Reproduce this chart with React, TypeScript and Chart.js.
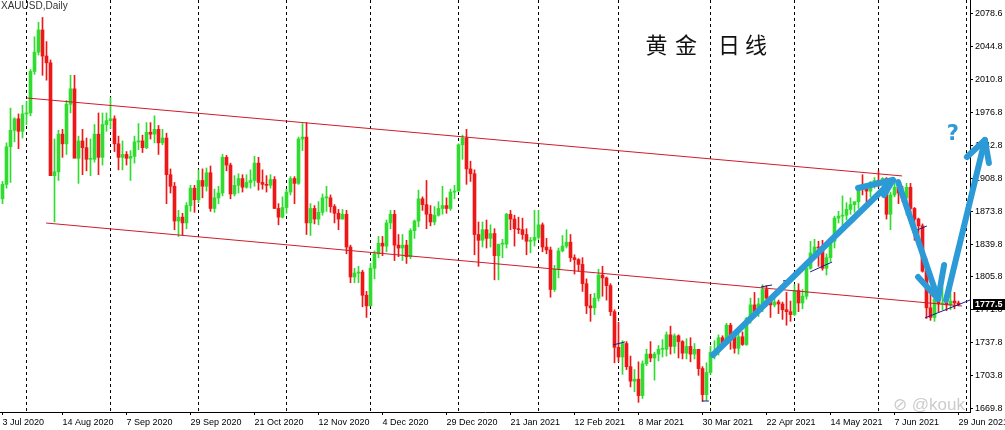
import React, { useEffect, useRef } from "react";
import { Chart, registerables } from "chart.js";
Chart.register(...registerables);

// XAUUSD daily, 24 Jul 2020 .. 29 Jun 2021 (one value per bar)
const openP = [
  // Jul
  1887, 1902, 1941, 1958, 1970, 1957,
  // Aug
  1975, 1976, 2019, 2039, 2062, 2035, 2028, 1911, 1915, 1954, 1944, 1985, 2001, 1929, 1947, 1940, 1928, 1928, 1954, 1930, 1964,
  // Sep
  1968, 1970, 1944, 1930, 1933, 1929, 1931, 1946, 1947, 1940, 1956, 1954, 1959, 1945, 1950, 1912, 1900, 1864, 1868, 1862, 1880, 1898,
  // Oct
  1886, 1906, 1900, 1914, 1877, 1888, 1893, 1930, 1922, 1892, 1901, 1908, 1899, 1904, 1906, 1924, 1904, 1902, 1901, 1907, 1877, 1868,
  // Nov
  1878, 1894, 1908, 1903, 1949, 1951, 1862, 1877, 1866, 1873, 1888, 1888, 1879, 1872, 1866, 1871, 1837, 1806, 1810, 1811, 1787,
  // Dec
  1776, 1815, 1830, 1841, 1838, 1862, 1871, 1839, 1836, 1839, 1827, 1854, 1864, 1887, 1881, 1871, 1863, 1870, 1877, 1880, 1877, 1894,
  // Jan
  1895, 1943, 1950, 1918, 1913, 1850, 1844, 1855, 1846, 1851, 1828, 1840, 1840, 1871, 1866, 1856, 1855, 1850, 1843, 1844,
  // Feb
  1847, 1860, 1837, 1834, 1793, 1814, 1833, 1838, 1842, 1826, 1824, 1819, 1799, 1776, 1774, 1784, 1808, 1805, 1797, 1770,
  // Mar
  1733, 1723, 1737, 1713, 1698, 1700, 1683, 1716, 1726, 1722, 1726, 1731, 1731, 1746, 1734, 1745, 1739, 1727, 1734, 1726, 1731, 1711, 1684,
  // Apr
  1707, 1728, 1729, 1743, 1737, 1756, 1744, 1732, 1744, 1736, 1763, 1777, 1770, 1778, 1793, 1784, 1777, 1780, 1778, 1772, 1770,
  // May
  1767, 1792, 1779, 1786, 1815, 1831, 1837, 1836, 1815, 1826, 1843, 1867, 1869, 1870, 1876, 1881, 1884, 1898, 1897, 1895, 1904,
  // Jun
  1906, 1903, 1908, 1871, 1891, 1899, 1893, 1888, 1899, 1877, 1866, 1859, 1812, 1774, 1764, 1783, 1778, 1779, 1777, 1781, 1779,
];
const highP = [
  1905, 1945, 1981, 1971, 1975, 1984,
  1988, 2021, 2055, 2070, 2075, 2050, 2031, 1949, 1958, 1959, 1989, 2015, 2015, 1952, 1959, 1950, 1949, 1964, 1976, 1976, 1976,
  1992, 1973, 1952, 1947, 1936, 1937, 1952, 1965, 1953, 1966, 1966, 1973, 1963, 1959, 1955, 1918, 1904, 1875, 1872, 1883, 1901, 1901,
  1917, 1918, 1919, 1921, 1897, 1900, 1933, 1932, 1924, 1911, 1913, 1912, 1912, 1917, 1931, 1930, 1917, 1911, 1912, 1910, 1882, 1889,
  1897, 1910, 1910, 1951, 1965, 1966, 1882, 1880, 1884, 1892, 1900, 1891, 1881, 1876, 1876, 1875, 1839, 1815, 1817, 1813, 1791,
  1820, 1833, 1848, 1848, 1865, 1875, 1875, 1850, 1850, 1844, 1856, 1865, 1896, 1889, 1906, 1880, 1879, 1884, 1900, 1888, 1897, 1901,
  1944, 1953, 1959, 1926, 1917, 1863, 1863, 1865, 1860, 1856, 1839, 1845, 1872, 1875, 1870, 1868, 1867, 1856, 1847, 1875,
  1875, 1862, 1846, 1837, 1818, 1836, 1849, 1855, 1850, 1829, 1825, 1826, 1804, 1788, 1789, 1814, 1817, 1806, 1799, 1772,
  1759, 1740, 1739, 1724, 1710, 1718, 1719, 1731, 1739, 1728, 1735, 1741, 1749, 1755, 1747, 1746, 1740, 1742, 1743, 1737, 1731, 1713, 1717,
  1734, 1740, 1746, 1745, 1758, 1758, 1746, 1747, 1749, 1764, 1784, 1790, 1784, 1798, 1797, 1786, 1786, 1782, 1780, 1790, 1781,
  1798, 1799, 1793, 1818, 1843, 1845, 1843, 1844, 1830, 1845, 1869, 1874, 1890, 1883, 1888, 1884, 1900, 1912, 1902, 1905, 1909,
  1916, 1909, 1909, 1894, 1903, 1904, 1900, 1903, 1903, 1878, 1867, 1861, 1825, 1795, 1789, 1790, 1795, 1785, 1793, 1790, 1781,
];
const lowP = [
  1882, 1898, 1904, 1946, 1939, 1950,
  1964, 1973, 2016, 2036, 2015, 2010, 1911, 1863, 1906, 1930, 1933, 1976, 1930, 1903, 1912, 1916, 1911, 1925, 1912, 1922, 1957,
  1960, 1936, 1917, 1917, 1922, 1906, 1924, 1938, 1935, 1939, 1949, 1945, 1933, 1943, 1882, 1893, 1855, 1848, 1849, 1856, 1874, 1873,
  1883, 1888, 1895, 1874, 1873, 1882, 1890, 1916, 1887, 1890, 1893, 1894, 1898, 1898, 1900, 1896, 1897, 1894, 1898, 1877, 1860, 1867,
  1872, 1891, 1882, 1902, 1937, 1850, 1849, 1861, 1860, 1870, 1874, 1873, 1862, 1855, 1866, 1830, 1800, 1800, 1800, 1775, 1764,
  1776, 1804, 1826, 1828, 1832, 1856, 1823, 1827, 1823, 1820, 1825, 1846, 1858, 1875, 1856, 1859, 1860, 1869, 1871, 1872, 1875, 1887,
  1895, 1928, 1902, 1905, 1829, 1817, 1837, 1836, 1837, 1803, 1803, 1826, 1836, 1855, 1838, 1851, 1845, 1829, 1831, 1838,
  1845, 1832, 1830, 1785, 1791, 1805, 1832, 1836, 1822, 1809, 1812, 1791, 1768, 1760, 1767, 1781, 1786, 1782, 1766, 1717,
  1718, 1705, 1710, 1692, 1687, 1676, 1680, 1714, 1718, 1699, 1719, 1723, 1724, 1726, 1727, 1722, 1721, 1721, 1718, 1721, 1704, 1677, 1678,
  1705, 1721, 1725, 1734, 1736, 1731, 1727, 1726, 1735, 1735, 1758, 1764, 1765, 1770, 1776, 1764, 1775, 1768, 1762, 1756, 1760,
  1766, 1770, 1773, 1783, 1814, 1827, 1817, 1813, 1808, 1822, 1836, 1862, 1855, 1865, 1871, 1873, 1877, 1891, 1884, 1889, 1898,
  1899, 1896, 1866, 1855, 1889, 1882, 1884, 1870, 1872, 1844, 1845, 1811, 1763, 1761, 1760, 1770, 1772, 1771, 1772, 1773, 1776,
];
const closeP = [
  1902, 1941, 1958, 1970, 1957, 1975,
  1976, 2019, 2039, 2062, 2035, 2028, 1911, 1915, 1954, 1944, 1985, 2001, 1929, 1947, 1940, 1928, 1928, 1954, 1930, 1964, 1968,
  1970, 1944, 1930, 1933, 1929, 1931, 1946, 1947, 1940, 1956, 1954, 1959, 1945, 1950, 1912, 1900, 1864, 1868, 1862, 1880, 1898, 1886,
  1906, 1900, 1914, 1877, 1888, 1893, 1930, 1922, 1892, 1901, 1908, 1899, 1904, 1906, 1924, 1904, 1902, 1901, 1907, 1877, 1868, 1878,
  1894, 1908, 1903, 1949, 1951, 1862, 1877, 1866, 1873, 1888, 1888, 1879, 1872, 1866, 1871, 1837, 1806, 1810, 1811, 1787, 1776,
  1815, 1830, 1841, 1838, 1862, 1871, 1839, 1836, 1839, 1827, 1854, 1864, 1887, 1881, 1871, 1863, 1870, 1877, 1880, 1877, 1894, 1895,
  1943, 1950, 1918, 1913, 1850, 1844, 1855, 1846, 1851, 1828, 1840, 1840, 1871, 1866, 1856, 1855, 1850, 1843, 1844, 1847,
  1860, 1837, 1834, 1793, 1814, 1833, 1838, 1842, 1826, 1824, 1819, 1799, 1776, 1774, 1784, 1808, 1805, 1797, 1770, 1733,
  1723, 1737, 1713, 1698, 1700, 1683, 1716, 1726, 1722, 1726, 1731, 1731, 1746, 1734, 1745, 1739, 1727, 1734, 1726, 1731, 1711, 1684, 1707,
  1728, 1729, 1743, 1737, 1756, 1744, 1732, 1744, 1736, 1763, 1777, 1770, 1778, 1793, 1784, 1777, 1780, 1778, 1772, 1770, 1767,
  1792, 1779, 1786, 1815, 1831, 1837, 1836, 1815, 1826, 1843, 1867, 1869, 1870, 1876, 1881, 1884, 1898, 1897, 1895, 1904, 1906,
  1903, 1908, 1871, 1891, 1899, 1893, 1888, 1899, 1877, 1866, 1859, 1812, 1774, 1764, 1783, 1778, 1779, 1777, 1781, 1779, 1777.5,
];

// bottom axis labels (bar index -> text)
const xTickIdx = [0, 15, 31, 47, 63, 79, 95, 111, 127, 143, 159, 175, 191, 207, 223, 239];
const xTickText = [
  "3 Jul 2020", "14 Aug 2020", "7 Sep 2020", "29 Sep 2020", "21 Oct 2020", "12 Nov 2020",
  "4 Dec 2020", "29 Dec 2020", "21 Jan 2021", "12 Feb 2021", "8 Mar 2021", "30 Mar 2021",
  "22 Apr 2021", "14 May 2021", "7 Jun 2021", "29 Jun 2021",
];
// right axis labels
const yTickValues = [1669.8, 1703.9, 1737.9, 1772.0, 1806.1, 1840.1, 1874.2, 1908.3, 1942.3, 1976.4, 2010.5, 2044.5, 2078.6];
const yTickText = ["1669.8", "1703.8", "1737.8", "1771.8", "1805.8", "1839.8", "1873.8", "1908.8", "1942.8", "1976.8", "2010.8", "2044.8", "2078.6"];

// month separators (first bar of each month)
const monthStarts = [6, 27, 49, 71, 92, 114, 134, 154, 177, 198, 219, 241];

// channel lines [barIndex, price]
const channelLines = [
  [[6.1, 1991.5], [224.9, 1910.7]],
  [[10.9, 1861.9], [239.9, 1775.9]],
];
// small navy trend lines
const navyLines = [
  [[152.6, 1735.5], [155.6, 1738.6]],
  [[174.9, 1677.4], [176.6, 1677.4]],
  [[189.6, 1795.6], [192.4, 1797.7]],
  [[195.1, 1801.8], [198.1, 1803.9]],
  [[201.9, 1811.2], [207.4, 1821.5]],
  [[227.4, 1852.6], [231.1, 1858.8]],
  [[230.6, 1763.5], [241.9, 1782.1]],
];
// hand-drawn arrows: [from, tip, arm1, arm2]
const arrows = [
  [[177.6, 1725.1], [222.6, 1906.5], [213.9, 1898.2], [220.4, 1890.9]],
  [[223.9, 1904.4], [233.9, 1783.2], [228.9, 1806.0], [235.4, 1818.4]],
  [[235.9, 1782.1], [245.6, 1948.0], [241.1, 1930.4], [246.6, 1924.1]],
];
const questionMark = [237.6, 1953.2];

const UP = "#2fdc2f";
const DOWN = "#ee1717";
const BLUE = "#2c9ad6";

export default function App() {
  const ref = useRef<HTMLCanvasElement>(null);

  useEffect(() => {
    const canvas = ref.current;
    if (!canvas) return;
    const n = closeP.length;
    const idx = Array.from({ length: n }, (_, i) => i);
    const colors = idx.map((i) => (closeP[i] >= openP[i] ? UP : DOWN));

    const overlay = {
      id: "mt4overlay",
      beforeDatasetsDraw(chart: any) {
        const { ctx, chartArea, scales } = chart;
        const xs = scales.x;
        ctx.save();
        ctx.strokeStyle = "#000";
        ctx.lineWidth = 1;
        ctx.setLineDash([3, 3]);
        for (const m of monthStarts) {
          const px = Math.floor(xs.getPixelForValue(m)) + 0.5;
          ctx.beginPath();
          ctx.moveTo(px, chartArea.top);
          ctx.lineTo(px, chartArea.bottom);
          ctx.stroke();
        }
        ctx.restore();
      },
      afterDatasetsDraw(chart: any) {
        const { ctx, chartArea, scales } = chart;
        const xs = scales.x, ys = scales.y;
        ctx.save();
        ctx.beginPath();
        ctx.rect(chartArea.left, chartArea.top, chartArea.right - chartArea.left, chartArea.bottom - chartArea.top);
        ctx.clip();
        const drawSeg = (seg: number[][], color: string) => {
          ctx.strokeStyle = color;
          ctx.lineWidth = 1;
          ctx.beginPath();
          ctx.moveTo(xs.getPixelForValue(seg[0][0]), ys.getPixelForValue(seg[0][1]));
          ctx.lineTo(xs.getPixelForValue(seg[1][0]), ys.getPixelForValue(seg[1][1]));
          ctx.stroke();
        };
        channelLines.forEach((s) => drawSeg(s, "#cf1b2b"));
        navyLines.forEach((s) => drawSeg(s, "#1b1b8a"));
        ctx.restore();
      },
      afterDraw(chart: any) {
        const { ctx, chartArea, scales } = chart;
        const xs = scales.x, ys = scales.y;
        const P = (p: number[]) => [xs.getPixelForValue(p[0]), ys.getPixelForValue(p[1])];
        ctx.save();
        // header text
        ctx.fillStyle = "#333";
        ctx.font = "10px 'Liberation Sans', Arial, sans-serif";
        ctx.textBaseline = "top";
        ctx.textAlign = "left";
        ctx.fillText("XAUUSD,Daily", 1, 1);
        // title
        ctx.fillStyle = "#111";
        ctx.font = "22px 'Noto Sans CJK SC', sans-serif";
        ctx.textAlign = "center";
        ctx.textBaseline = "middle";
        const title = ["黄", "金", "日", "线"];
        const tx = [656.5, 686, 729, 756];
        title.forEach((c, i) => ctx.fillText(c, tx[i], 45));
        // current price tag
        const lastY = Math.round(ys.getPixelForValue(closeP[n - 1]));
        ctx.fillStyle = "#000";
        ctx.fillRect(chartArea.right + 3, lastY - 5, 40, 11);
        ctx.fillStyle = "#fff";
        ctx.font = "bold 9px 'Liberation Sans', Arial, sans-serif";
        ctx.textAlign = "left";
        ctx.fillText(String(closeP[n - 1]), chartArea.right + 5, lastY + 0.5);
        // watermark
        ctx.fillStyle = "rgba(140,140,140,0.45)";
        ctx.font = "17px 'Liberation Sans', Arial, sans-serif";
        ctx.textAlign = "left";
        ctx.fillText("⊘ @kouk", 893, 405);
        // arrows
        ctx.strokeStyle = BLUE;
        ctx.lineWidth = 6;
        ctx.lineCap = "round";
        ctx.lineJoin = "round";
        for (const a of arrows) {
          const [f, t, a1, a2] = a.map(P);
          ctx.beginPath();
          ctx.moveTo(f[0], f[1]);
          ctx.lineTo(t[0], t[1]);
          ctx.stroke();
          ctx.beginPath();
          ctx.moveTo(a1[0], a1[1]);
          ctx.lineTo(t[0], t[1]);
          ctx.lineTo(a2[0], a2[1]);
          ctx.stroke();
        }
        const q = P(questionMark);
        ctx.fillStyle = BLUE;
        ctx.font = "bold 21px 'DejaVu Sans', sans-serif";
        ctx.textAlign = "center";
        ctx.textBaseline = "middle";
        ctx.fillText("?", q[0], q[1]);
        ctx.restore();
      },
    };

    const axisFont = { family: "'Liberation Sans', Arial, sans-serif", size: 9 };

    const chart = new Chart(canvas, {
      type: "bar",
      data: {
        datasets: [
          {
            label: "body",
            data: idx.map((i) => ({ x: i, y: [openP[i], closeP[i]] })) as any,
            backgroundColor: colors,
            borderWidth: 0,
            barThickness: 3,
            minBarLength: 1,
            grouped: false,
            order: 0,
          } as any,
          {
            label: "wick",
            data: idx.map((i) => ({ x: i, y: [lowP[i], highP[i]] })) as any,
            backgroundColor: colors,
            borderWidth: 0,
            barThickness: 1,
            grouped: false,
            order: 1,
          } as any,
        ],
      },
      options: {
        responsive: false,
        animation: false,
        devicePixelRatio: 1,
        events: [],
        layout: { padding: 0 },
        plugins: { legend: { display: false }, tooltip: { enabled: false }, title: { display: false } },
        scales: {
          x: {
            type: "linear",
            min: -0.625,
            max: 241.875,
            bounds: "data",
            offset: false,
            afterBuildTicks: (s: any) => {
              s.ticks = xTickIdx.map((v) => ({ value: v }));
            },
            afterFit: (s: any) => {
              s.height = 18;
              s.paddingLeft = 0;
              s.paddingRight = 0;
            },
            grid: { drawOnChartArea: false, drawTicks: true, tickLength: 3, color: "#000", offset: false },
            border: { display: true, color: "#000" },
            ticks: {
              autoSkip: false,
              maxRotation: 0,
              minRotation: 0,
              align: "start",
              padding: 2,
              color: "#000",
              font: axisFont,
              callback: (v: any) => {
                const k = xTickIdx.indexOf(Number(v));
                return k >= 0 ? xTickText[k] : "";
              },
            },
          } as any,
          y: {
            type: "linear",
            position: "right",
            min: 1666.0,
            max: 2093.1,
            bounds: "data",
            afterBuildTicks: (s: any) => {
              s.ticks = yTickValues.map((v) => ({ value: v }));
            },
            afterFit: (s: any) => {
              s.width = 35;
              s.paddingTop = 0;
              s.paddingBottom = 0;
            },
            grid: { drawOnChartArea: false, drawTicks: true, tickLength: 3, color: "#000" },
            border: { display: true, color: "#000" },
            ticks: {
              autoSkip: false,
              padding: 2,
              color: "#000",
              font: axisFont,
              callback: (v: any) => {
                const k = yTickValues.indexOf(Number(v));
                return k >= 0 ? yTickText[k] : "";
              },
            },
          } as any,
        },
      },
      plugins: [overlay],
    });
    return () => chart.destroy();
  }, []);

  return (
    <div style={{ position: "absolute", left: 0, top: 0, width: 1005, height: 430, background: "#fff" }}>
      <canvas ref={ref} width={1005} height={430} style={{ display: "block", width: 1005, height: 430 }} />
    </div>
  );
}
